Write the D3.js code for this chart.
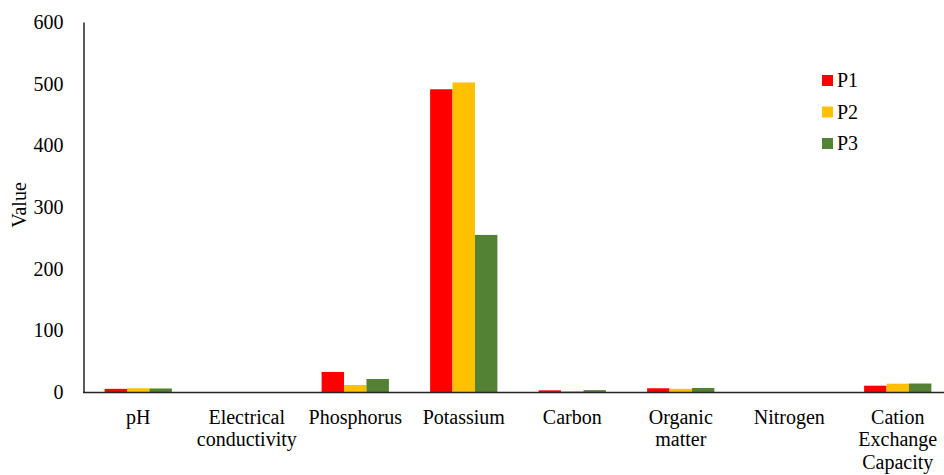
<!DOCTYPE html>
<html><head><meta charset="utf-8">
<script src="https://cdn.jsdelivr.net/npm/d3@7"></script>
<style>body{margin:0;background:#fff;overflow:hidden}svg{display:block}</style>
</head><body><svg id="c" width="944" height="475"></svg>
<script>
const categories = [["pH"],["Electrical","conductivity"],["Phosphorus"],["Potassium"],["Carbon"],["Organic","matter"],["Nitrogen"],["Cation","Exchange","Capacity"]];
const seriesNames = ["P1","P2","P3"];
const P1 = [5.6, 0.3, 33, 491, 3.2, 6.5, 0.2, 10.7];
const P2 = [6.6, 0.2, 11.8, 502, 2.0, 5.6, 0.15, 14];
const P3 = [6.2, 0.4, 21.6, 255, 3.5, 7.0, 0.2, 14.2];
const yTicks = [0,100,200,300,400,500,600];
const colors = ["#ff0000","#ffc000","#548235"];
const FONT = "'Liberation Serif', 'Times New Roman', Tinos, 'DejaVu Serif', serif";

const svg = d3.select("#c").attr("font-family", FONT);
const x0 = d3.scaleBand().domain(d3.range(categories.length)).range([84, 952]).paddingInner(0.38).paddingOuter(0.19);
const x1 = d3.scaleBand().domain(d3.range(3)).range([0, x0.bandwidth()]);
const y = d3.scaleLinear().domain([0,600]).range([392.3, 22]);
const series = [P1,P2,P3];

const g = svg.append("g");
categories.forEach((c,i)=>{
  series.forEach((s,j)=>{
    g.append("rect").attr("x", x0(i)+x1(j)).attr("width", x1.bandwidth())
     .attr("y", y(s[i])).attr("height", y(0)-y(s[i])).attr("fill", colors[j]);
  });
});

// y axis
const ya = svg.append("g").attr("transform","translate(83.5,0)")
  .call(d3.axisLeft(y).tickValues(yTicks).tickSize(0).tickPadding(20));
ya.attr("font-family", FONT).attr("font-size", 20);
ya.select(".domain").attr("stroke","#000").attr("stroke-width",1.3);
ya.selectAll("text").style("font-family", FONT).style("font-size","20px").attr("fill","#000");

// x axis
const xa = svg.append("g").attr("transform","translate(0,392.5)")
  .call(d3.axisBottom(x0).tickSize(0).tickFormat(""));
xa.attr("font-family", FONT).attr("font-size", 20);
xa.select(".domain").attr("d","M83,0H944").attr("stroke","#222").attr("stroke-width",1.6);
xa.selectAll(".tick").each(function(d){
  const t = d3.select(this).append("text").attr("text-anchor","middle").style("font-family", FONT).style("font-size","20px").attr("fill","#000");
  categories[d].forEach((line,k)=>{
    t.append("tspan").attr("x",0).attr("y",31+k*22.5).text(line);
  });
});

// y label
svg.append("text").attr("transform","translate(26,205) rotate(-90)").attr("text-anchor","middle")
  .style("font-family", FONT).style("font-size","20px").text("Value");

// legend
const lg = svg.append("g").attr("transform","translate(822,75)");
seriesNames.forEach((n,j)=>{
  lg.append("rect").attr("x",0).attr("y",j*31.5).attr("width",11).attr("height",11).attr("fill",colors[j]);
  lg.append("text").attr("x",15).attr("y",j*31.5+12).style("font-family", FONT).style("font-size","20px").text(n);
});
</script></body></html>
